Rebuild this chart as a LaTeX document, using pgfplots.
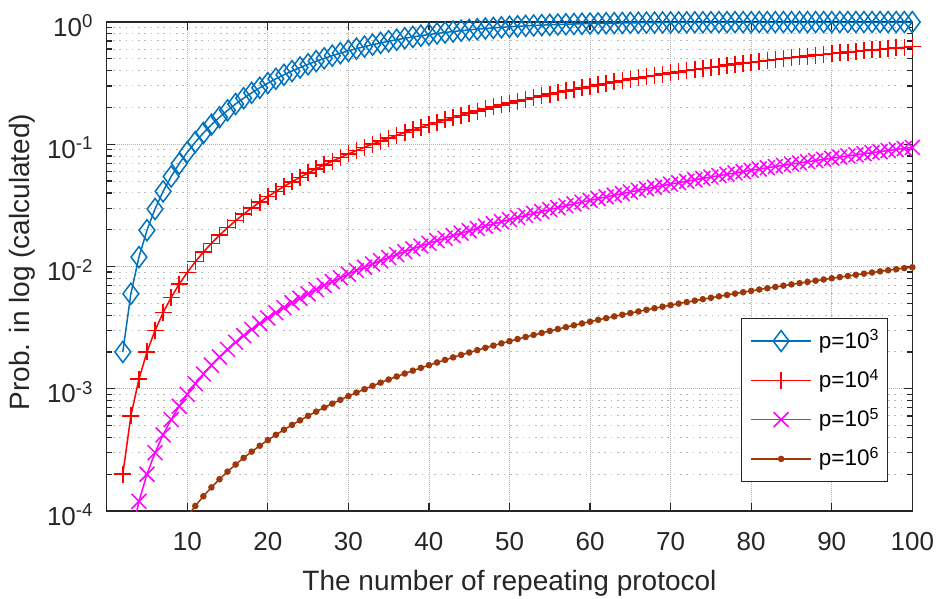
\documentclass[border=0pt]{standalone}
\usepackage{fontspec}
\setmainfont{Liberation Sans}
\usepackage{pgfplots}
\usepackage{pgfplotstable}
\pgfplotsset{compat=1.18}

\definecolor{axc}{RGB}{38,38,38}
\definecolor{cA}{RGB}{0,114,189}
\definecolor{cB}{RGB}{255,0,0}
\definecolor{cC}{RGB}{255,0,255}
\definecolor{cD}{RGB}{158,55,10}

\newcommand{\tsup}[1]{\raisebox{8.4pt}{\fontsize{18.6}{20}\selectfont #1}}
\newcommand{\lsup}[1]{\raisebox{7.3pt}{\fontsize{16}{18}\selectfont #1}}

% p = 10^3
\pgfplotstableread{
n y
2 0.002
3 0.00598
4 0.01193
5 0.0198
6 0.02956
7 0.04113
8 0.05446
9 0.06947
10 0.08607
11 0.10417
12 0.12366
13 0.14444
14 0.1664
15 0.18942
16 0.21337
17 0.23814
18 0.26361
19 0.28965
20 0.31614
21 0.34295
22 0.36998
23 0.3971
24 0.4242
25 0.45119
26 0.47795
27 0.5044
28 0.53046
29 0.55602
30 0.58105
31 0.60545
32 0.62917
33 0.65216
34 0.67438
35 0.69578
36 0.71635
37 0.73605
38 0.75488
39 0.77282
40 0.78986
41 0.80602
42 0.82128
43 0.83568
44 0.84922
45 0.86193
46 0.87381
47 0.8849
48 0.89522
49 0.90483
50 0.91371
51 0.92192
52 0.92949
53 0.93646
54 0.94285
55 0.9487
56 0.95404
57 0.95891
58 0.96333
59 0.96735
60 0.97099
61 0.97427
62 0.97723
63 0.97988
64 0.98226
65 0.98439
66 0.9863
67 0.98799
68 0.9895
69 0.99083
70 0.99201
71 0.99306
72 0.99398
73 0.99478
74 0.99549
75 0.99611
76 0.99665
77 0.99712
78 0.99754
79 0.99789
80 0.9982
81 0.99847
82 0.9987
83 0.9989
84 0.99906
85 0.99921
86 0.99933
87 0.99944
88 0.99953
89 0.9996
90 0.99967
91 0.99972
92 0.99977
93 0.99981
94 0.99984
95 0.99987
96 0.99989
97 0.99991
98 0.99993
99 0.99994
100 0.99995
}\tblA

% p = 10^4
\pgfplotstableread{
n y
2 0.0002
3 0.0006
4 0.0012
5 0.002
6 0.002996
7 0.004191
8 0.005584
9 0.007174
10 0.00896
11 0.01094
12 0.01311
13 0.01548
14 0.01804
15 0.02078
16 0.02371
17 0.02683
18 0.03014
19 0.03362
20 0.03729
21 0.04113
22 0.04515
23 0.04934
24 0.0537
25 0.05824
26 0.06293
27 0.06779
28 0.07281
29 0.07799
30 0.08332
31 0.0888
32 0.09443
33 0.10022
34 0.10614
35 0.1122
36 0.11839
37 0.12471
38 0.13116
39 0.13774
40 0.14444
41 0.15126
42 0.15819
43 0.16523
44 0.17238
45 0.17963
46 0.18697
47 0.1944
48 0.20192
49 0.20953
50 0.21723
51 0.225
52 0.23295
53 0.24087
54 0.24886
55 0.25692
56 0.26505
57 0.27324
58 0.28148
59 0.28977
60 0.29811
61 0.3065
62 0.31492
63 0.32337
64 0.33185
65 0.34034
66 0.34885
67 0.35737
68 0.36589
69 0.3745
70 0.38307
71 0.39169
72 0.40021
73 0.40881
74 0.41734
75 0.42585
76 0.43447
77 0.44294
78 0.45152
79 0.45997
80 0.46847
81 0.4769
82 0.48524
83 0.49365
84 0.50199
85 0.51032
86 0.51857
87 0.52678
88 0.53498
89 0.5431
90 0.55112
91 0.55912
92 0.56704
93 0.57495
94 0.58283
95 0.59058
96 0.59828
97 0.60592
98 0.61349
99 0.62099
100 0.62842
}\tblB

% p = 10^5
\pgfplotstableread{
n y
4 0.00012
5 0.0002
6 0.0003
7 0.00042
8 0.00056
9 0.00072
10 0.0009
11 0.0011
12 0.00132
13 0.00156
14 0.00182
15 0.0021
16 0.0024
17 0.00272
18 0.00306
19 0.00342
20 0.00379
21 0.00419
22 0.00461
23 0.00505
24 0.0055
25 0.00598
26 0.00648
27 0.007
28 0.00753
29 0.00809
30 0.00866
31 0.00926
32 0.00987
33 0.0105
34 0.01116
35 0.01183
36 0.01252
37 0.01323
38 0.01396
39 0.01471
40 0.01548
41 0.01627
42 0.01707
43 0.0179
44 0.01874
45 0.0196
46 0.02049
47 0.02139
48 0.02231
49 0.02324
50 0.0242
51 0.02518
52 0.02617
53 0.02718
54 0.02821
55 0.02926
56 0.03033
57 0.03141
58 0.03251
59 0.03363
60 0.03477
61 0.03593
62 0.03711
63 0.0383
64 0.03951
65 0.04073
66 0.04198
67 0.04324
68 0.04452
69 0.04582
70 0.04713
71 0.04847
72 0.04981
73 0.05118
74 0.05256
75 0.05396
76 0.05538
77 0.05681
78 0.05826
79 0.05972
80 0.0612
81 0.0627
82 0.06421
83 0.06574
84 0.06729
85 0.06885
86 0.07043
87 0.07202
88 0.07363
89 0.07525
90 0.07689
91 0.07855
92 0.08022
93 0.0819
94 0.0836
95 0.08531
96 0.08704
97 0.08878
98 0.09054
99 0.09231
100 0.09426
}\tblC

% p = 10^6
\pgfplotstableread{
n y
11 1.10e-4
12 1.32e-4
13 1.56e-4
14 1.82e-4
15 2.10e-4
16 2.40e-4
17 2.72e-4
18 3.06e-4
19 3.42e-4
20 3.80e-4
21 4.20e-4
22 4.62e-4
23 5.06e-4
24 5.52e-4
25 6.00e-4
26 6.50e-4
27 7.02e-4
28 7.56e-4
29 8.12e-4
30 8.70e-4
31 9.30e-4
32 9.92e-4
33 1.056e-3
34 1.122e-3
35 1.190e-3
36 1.260e-3
37 1.332e-3
38 1.406e-3
39 1.482e-3
40 1.560e-3
41 1.640e-3
42 1.722e-3
43 1.806e-3
44 1.892e-3
45 1.980e-3
46 2.070e-3
47 2.162e-3
48 2.256e-3
49 2.352e-3
50 2.450e-3
51 2.550e-3
52 2.652e-3
53 2.756e-3
54 2.862e-3
55 2.970e-3
56 3.080e-3
57 3.192e-3
58 3.306e-3
59 3.422e-3
60 3.540e-3
61 3.660e-3
62 3.782e-3
63 3.906e-3
64 4.032e-3
65 4.160e-3
66 4.290e-3
67 4.422e-3
68 4.556e-3
69 4.692e-3
70 4.830e-3
71 4.970e-3
72 5.112e-3
73 5.256e-3
74 5.402e-3
75 5.550e-3
76 5.700e-3
77 5.852e-3
78 6.006e-3
79 6.162e-3
80 6.320e-3
81 6.480e-3
82 6.642e-3
83 6.806e-3
84 6.972e-3
85 7.140e-3
86 7.310e-3
87 7.482e-3
88 7.656e-3
89 7.832e-3
90 8.010e-3
91 8.190e-3
92 8.372e-3
93 8.556e-3
94 8.742e-3
95 8.930e-3
96 9.120e-3
97 9.312e-3
98 9.506e-3
99 9.702e-3
100 9.851e-3
}\tblD

\begin{document}
\begin{tikzpicture}
\begin{axis}[
  scale only axis, width=805.6pt, height=489pt,
  xmin=0, xmax=100,
  ymode=log, ymin=1e-4, ymax=1,
  xtick={10,20,30,40,50,60,70,80,90,100},
  xticklabels={10,20,30,40,50,60,70,80,90,100},
  ytick={1e-4,1e-3,1e-2,1e-1,1},
  yticklabels={10\tsup{-4},10\tsup{-3},10\tsup{-2},10\tsup{-1},10\tsup{0}},
  minor ytick={2e-4,3e-4,4e-4,5e-4,6e-4,7e-4,8e-4,9e-4,
               2e-3,3e-3,4e-3,5e-3,6e-3,7e-3,8e-3,9e-3,
               2e-2,3e-2,4e-2,5e-2,6e-2,7e-2,8e-2,9e-2,
               0.2,0.3,0.4,0.5,0.6,0.7,0.8,0.9},
  tick align=inside, major tick length=8pt, minor tick length=5pt,
  every tick/.style={axc, line width=1.3pt},
  axis line style={axc, line width=1.6pt},
  grid=both,
  major grid style={gray!60, line width=0.8pt, dash pattern=on 1pt off 1pt},
  minor grid style={gray!55, line width=1pt, dash pattern=on 1.6pt off 4.7pt},
  ticklabel style={font=\fontsize{26}{30}\selectfont, text=axc, inner sep=0pt},
  xticklabel style={yshift=-21pt},
  yticklabel style={xshift=-14pt, yshift=-3.65pt},
  xlabel={The number of repeating protocol},
  ylabel={Prob. in log (calculated)},
  label style={font=\fontsize{28}{32}\selectfont, text=axc},
  xlabel style={at={(axis description cs:0.5,-0.1616)}, anchor=base},
  ylabel style={at={(axis description cs:-0.1045,0.509)}, anchor=center},
  legend cell align=left,
  legend style={at={(0.9699,0.0593)}, anchor=south east, draw=axc,
    line width=1.2pt, fill=white, font=\fontsize{22.5}{26}\selectfont,
    inner xsep=9pt, inner ysep=10.5pt, row sep=15.3pt,
    nodes={inner sep=0pt, text height=19pt, text depth=5pt},
    /tikz/every odd column/.append style={column sep=7pt}},
  legend image code/.code={\draw[mark repeat=2,mark phase=2,#1]
    plot coordinates {(0pt,0pt) (30pt,0pt) (60pt,0pt)};},
]
\addplot[cA, line width=1.5pt, mark=diamond, mark size=10.5pt] table[x=n,y=y] {\tblA};
\addplot[cB, line width=1.5pt, mark=+, mark size=8.5pt] table[x=n,y=y] {\tblB};
\addplot[cC, line width=1.5pt, mark=x, mark size=10.5pt] table[x=n,y=y] {\tblC};
\addplot[cD, line width=1.5pt, mark=*, mark size=2.5pt] table[x=n,y=y] {\tblD};
\addplot[cC, line width=1.5pt, forget plot] coordinates {(3,6e-5) (4,1.2e-4)};
\addplot[cD, line width=1.5pt, forget plot] coordinates {(10,9e-5) (11,1.1e-4)};
\legend{p=10\lsup{3},p=10\lsup{4},p=10\lsup{5},p=10\lsup{6}}
\end{axis}
\pgfresetboundingbox
\path[use as bounding box] (-106.7pt,-87pt) rectangle (829.3pt,511pt);
\end{tikzpicture}
\end{document}
